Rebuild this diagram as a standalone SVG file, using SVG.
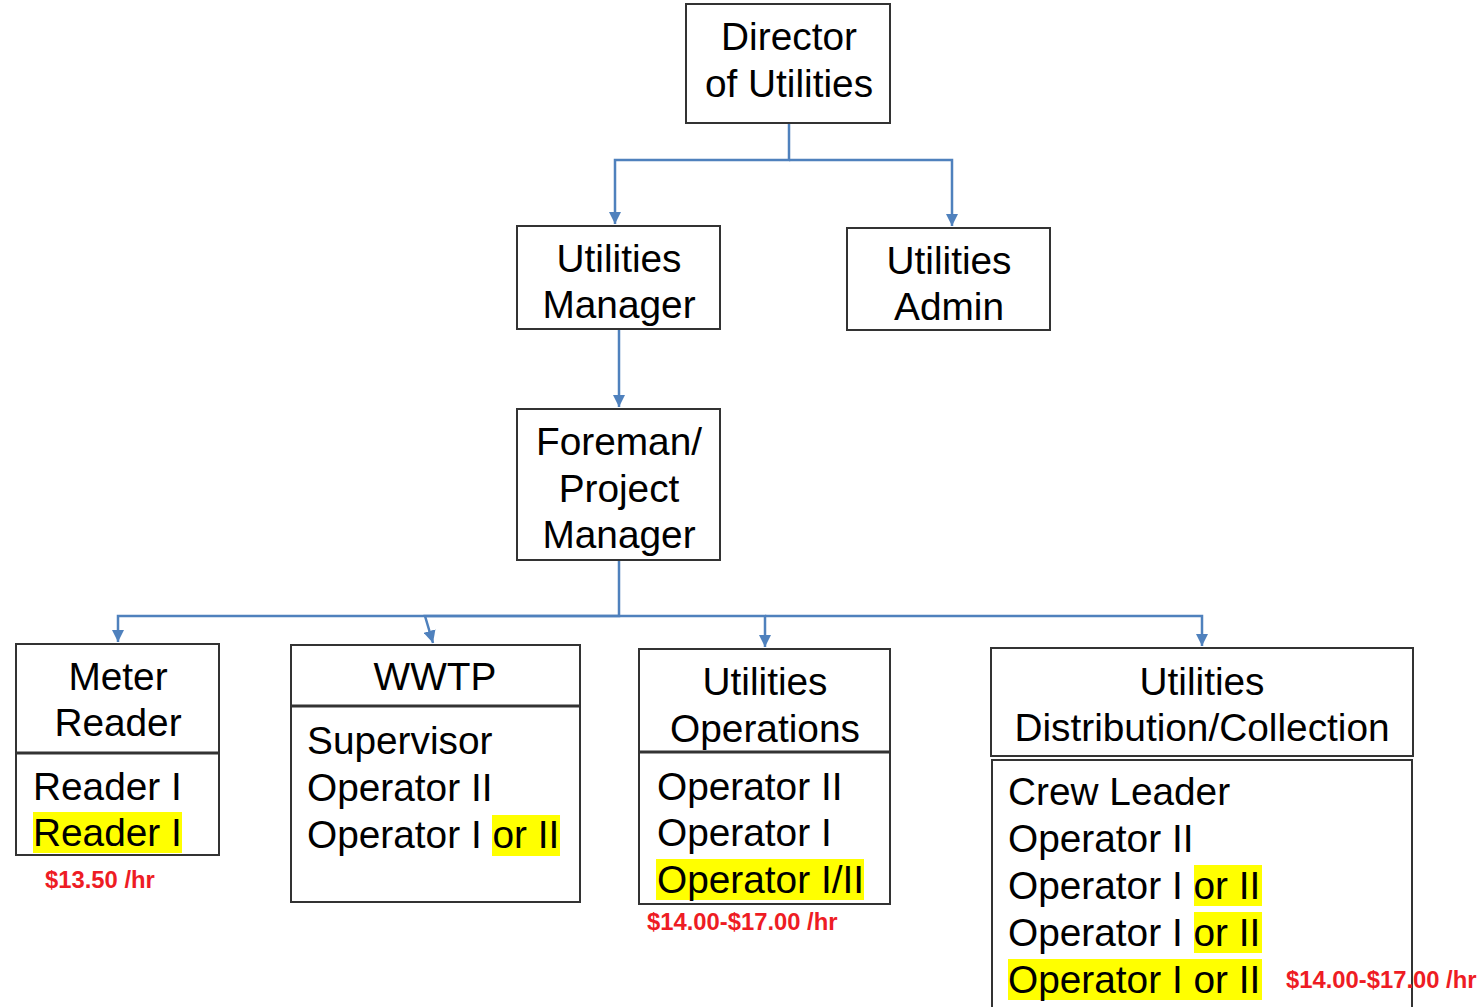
<svg xmlns="http://www.w3.org/2000/svg" width="1484" height="1007" viewBox="0 0 1484 1007">
<style>
.box{fill:#fff;stroke:#333;stroke-width:2}
.t{font-family:"Liberation Sans",Arial,sans-serif;font-size:38.8px;fill:#000}
.c{text-anchor:middle}
.hl{fill:#ffff00}
.red{font-family:"Liberation Sans",Arial,sans-serif;font-size:23.8px;font-weight:bold;fill:#ee1c24}
.conn{fill:none;stroke:#4f81bd;stroke-width:2.5}
</style>
<defs>
<marker id="ah" viewBox="0 0 10 10" refX="10" refY="5" markerWidth="5" markerHeight="5" orient="auto" markerUnits="strokeWidth">
<path d="M0,0 L10,5 L0,10 z" fill="#4f81bd"/>
</marker>
</defs>
<rect width="1484" height="1007" fill="#fff"/>
<g id="connectors">
<path class="conn" d="M789,123 V160 H615 V224" marker-end="url(#ah)"/>
<path class="conn" d="M789,160 H952 V226" marker-end="url(#ah)"/>
<path class="conn" d="M619,329 V407" marker-end="url(#ah)"/>
<path class="conn" d="M619,560 V616 H118 V642" marker-end="url(#ah)"/>
<path class="conn" d="M619,616 H425 L433,643" marker-end="url(#ah)"/>
<path class="conn" d="M619,616 H765 V647" marker-end="url(#ah)"/>
<path class="conn" d="M765,616 H1202 V646" marker-end="url(#ah)"/>
</g>
<g id="director">
<rect class="box" x="686" y="4" width="204" height="119"/>
<text class="t c" x="789" y="50">Director</text>
<text class="t c" x="789" y="97">of Utilities</text>
</g>
<g id="utilities-manager">
<rect class="box" x="517" y="226" width="203" height="103"/>
<text class="t c" x="619" y="272">Utilities</text>
<text class="t c" x="619" y="318">Manager</text>
</g>
<g id="utilities-admin">
<rect class="box" x="847" y="228" width="203" height="102"/>
<text class="t c" x="949" y="274">Utilities</text>
<text class="t c" x="949" y="320">Admin</text>
</g>
<g id="foreman">
<rect class="box" x="517" y="409" width="203" height="151"/>
<text class="t c" x="619" y="455">Foreman/</text>
<text class="t c" x="619" y="502">Project</text>
<text class="t c" x="619" y="548">Manager</text>
</g>
<g id="meter-reader">
<rect class="box" x="16" y="644" width="203" height="211"/>
<line x1="16" y1="753" x2="219" y2="753" stroke="#333" stroke-width="3"/>
<text class="t c" x="118" y="690">Meter</text>
<text class="t c" x="118" y="736">Reader</text>
<text class="t" x="33" y="800">Reader I</text>
<rect class="hl" x="33" y="812" width="149" height="41"/>
<text class="t" x="33" y="846">Reader I</text>
<text class="red" x="45" y="888">$13.50 /hr</text>
</g>
<g id="wwtp">
<rect class="box" x="291" y="645" width="289" height="257"/>
<line x1="291" y1="706" x2="580" y2="706" stroke="#333" stroke-width="3"/>
<text class="t c" x="435" y="690">WWTP</text>
<text class="t" x="307" y="754">Supervisor</text>
<text class="t" x="307" y="801">Operator II</text>
<rect class="hl" x="492" y="815" width="68" height="41"/>
<text class="t" x="307" y="848">Operator I <tspan>or II</tspan></text>
</g>
<g id="utilities-operations">
<rect class="box" x="639" y="649" width="251" height="255"/>
<line x1="639" y1="752" x2="890" y2="752" stroke="#333" stroke-width="3"/>
<text class="t c" x="765" y="695">Utilities</text>
<text class="t c" x="765" y="742">Operations</text>
<text class="t" x="657" y="800">Operator II</text>
<text class="t" x="657" y="846">Operator I</text>
<rect class="hl" x="656" y="859" width="208" height="41"/>
<text class="t" x="657" y="893">Operator I/II</text>
<text class="red" x="647" y="930">$14.00-$17.00 /hr</text>
</g>
<g id="utilities-distribution">
<rect class="box" x="991" y="648" width="422" height="108"/>
<rect class="box" x="992" y="760" width="420" height="260"/>
<text class="t c" x="1202" y="695">Utilities</text>
<text class="t c" x="1202" y="741">Distribution/Collection</text>
<text class="t" x="1008" y="805">Crew Leader</text>
<text class="t" x="1008" y="852">Operator II</text>
<rect class="hl" x="1194" y="865" width="68" height="41"/>
<text class="t" x="1008" y="899">Operator I or II</text>
<rect class="hl" x="1194" y="912" width="68" height="41"/>
<text class="t" x="1008" y="946">Operator I or II</text>
<rect class="hl" x="1008" y="959" width="254" height="41"/>
<text class="t" x="1008" y="993">Operator I or II</text>
<text class="red" x="1286" y="988">$14.00-$17.00 /hr</text>
</g>
</svg>
